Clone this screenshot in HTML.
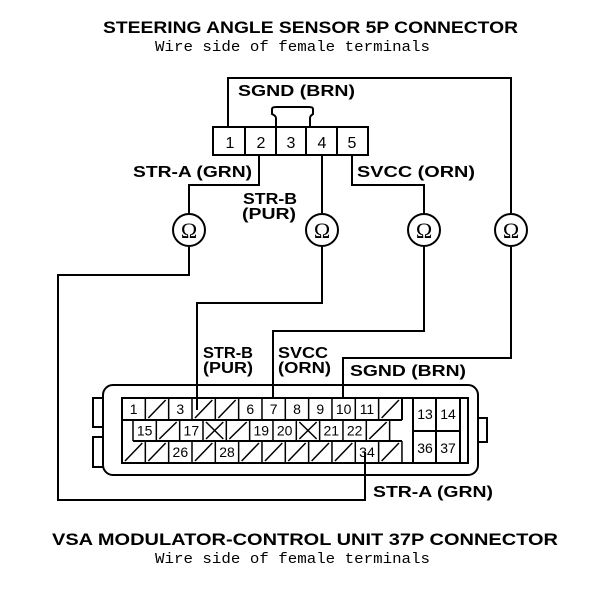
<!DOCTYPE html>
<html><head><style>body{margin:0;background:#fff}svg{display:block}</style></head><body>
<svg width="608" height="590" xmlns="http://www.w3.org/2000/svg" font-family="Liberation Sans, sans-serif">
<g font-weight="bold" font-size="17" fill="#000">
<text x="103" y="33" textLength="415" lengthAdjust="spacingAndGlyphs">STEERING ANGLE SENSOR 5P CONNECTOR</text>
<text x="52" y="545" textLength="506" lengthAdjust="spacingAndGlyphs">VSA MODULATOR-CONTROL UNIT 37P CONNECTOR</text>
</g>
<g font-family="Liberation Mono, monospace" font-size="15" fill="#000">
<text x="155" y="51" textLength="275" lengthAdjust="spacingAndGlyphs">Wire side of female terminals</text>
<text x="155" y="563" textLength="275" lengthAdjust="spacingAndGlyphs">Wire side of female terminals</text>
</g>
<g font-weight="bold" font-size="16" fill="#000" lengthAdjust="spacingAndGlyphs">
<text x="238" y="96" textLength="117" lengthAdjust="spacingAndGlyphs">SGND (BRN)</text>
<text x="133" y="177" textLength="119" lengthAdjust="spacingAndGlyphs">STR-A (GRN)</text>
<text x="243" y="204" textLength="54" lengthAdjust="spacingAndGlyphs">STR-B</text><text x="242" y="219" textLength="54" lengthAdjust="spacingAndGlyphs">(PUR)</text>
<text x="357" y="177" textLength="118" lengthAdjust="spacingAndGlyphs">SVCC (ORN)</text>
<text x="203" y="358" textLength="50" lengthAdjust="spacingAndGlyphs">STR-B</text><text x="203" y="373" textLength="50" lengthAdjust="spacingAndGlyphs">(PUR)</text>
<text x="278" y="358" textLength="50" lengthAdjust="spacingAndGlyphs">SVCC</text><text x="278" y="373" textLength="53" lengthAdjust="spacingAndGlyphs">(ORN)</text>
<text x="350" y="376" textLength="116" lengthAdjust="spacingAndGlyphs">SGND (BRN)</text>
<text x="373" y="497" textLength="120" lengthAdjust="spacingAndGlyphs">STR-A (GRN)</text>
</g>
<g fill="none" stroke="#000" stroke-width="2">
<rect x="213" y="127" width="155" height="28"/>
<path d="M245 127V155M276 127V155M306 127V155M337 127V155"/>
<path d="M276 127V118Q276 116 272 114V109Q272 107 276 107H309Q313 107 313 109V114Q310 116 310 118V127"/>
<path d="M228 127V78H511V213"/>
<path d="M259 155V185H189V213"/>
<path d="M322 155V213"/>
<path d="M352 155V185H424V213"/>
<circle cx="189" cy="230" r="16"/><circle cx="322" cy="230" r="16"/>
<circle cx="424" cy="230" r="16"/><circle cx="511" cy="230" r="16"/>
<path d="M189 247V275H58V500H365V452"/>
<path d="M322 247V303H197V410"/>
<path d="M424 247V331H273V398"/>
<path d="M511 247V358H343V398"/>
<rect x="103" y="385" width="375" height="90" rx="10"/>
<path d="M103 398H93V427H103M103 437H93V467H103M478 418H487V442H478"/>
<rect x="122" y="398" width="346" height="65"/>
<path d="M413 398V463M436 398V463M413 431H460M460 398V463"/>
<path d="M122 420H402M133 441H402M402 398V420"/>
</g>
<g font-size="16" fill="#000" text-anchor="middle">
<text x="230" y="148">1</text><text x="261" y="148">2</text><text x="291" y="148">3</text><text x="322" y="148">4</text><text x="352" y="148">5</text>
<text x="425" y="419" font-size="14">13</text><text x="448" y="419" font-size="14">14</text>
<text x="425" y="453" font-size="14">36</text><text x="448" y="453" font-size="14">37</text>
</g>
<g font-size="22" fill="#000" text-anchor="middle" font-family="Liberation Serif, serif">
<text x="189" y="238">Ω</text><text x="322" y="238">Ω</text><text x="424" y="238">Ω</text><text x="511" y="238">Ω</text>
</g>
<g id="cells" stroke="#000" stroke-width="1.5" fill="none"></g>
<g id="lbl" font-size="14" fill="#000" text-anchor="middle"></g>
<script>
var w=23.33,cells=document.getElementById('cells'),lbl=document.getElementById('lbl'),ns='http://www.w3.org/2000/svg';
function row(x0,y0,h,items){items.forEach(function(t,i){var x=x0+i*w;var l=document.createElementNS(ns,'path');var d='M'+(x+w)+' '+y0+'V'+(y0+h);
if(t=='/')d+='M'+(x+3)+' '+(y0+h-2)+'L'+(x+w-3)+' '+(y0+2);
if(t=='X')d+='M'+(x+3)+' '+(y0+h-2)+'L'+(x+w-3)+' '+(y0+2)+'M'+(x+3)+' '+(y0+2)+'L'+(x+w-3)+' '+(y0+h-2);
if(i==0)d+='M'+x+' '+y0+'V'+(y0+h);
l.setAttribute('d',d);cells.appendChild(l);
if(t!='/'&&t!='X'){var e=document.createElementNS(ns,'text');e.setAttribute('x',x+w/2);e.setAttribute('y',y0+h/2+5);e.textContent=t;lbl.appendChild(e);}});}
row(122,398,22,['1','/','3','/','/','6','7','8','9','10','11','/']);
row(133,420,21,['15','/','17','X','/','19','20','X','21','22','/']);
row(122,441,22,['/','/','26','/','28','/','/','/','/','/','34','/']);
</script>
</svg>
</body></html>
